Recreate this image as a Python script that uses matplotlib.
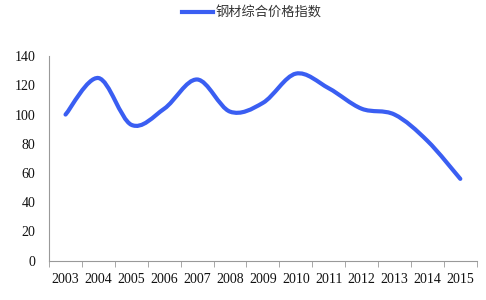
import matplotlib.pyplot as plt
import numpy as np
from matplotlib.path import Path
from matplotlib.patches import PathPatch
from matplotlib.lines import Line2D

years = ['2003', '2004', '2005', '2006', '2007', '2008', '2009',
         '2010', '2011', '2012', '2013', '2014', '2015']
index_values = [100, 125, 93, 104, 124, 102, 108, 128, 118, 104, 100, 82, 56]
series_name = '钢材综合价格指数'

blue = '#3a5ef2'

def smooth_path(x, y, t=1/6):
    # Catmull-Rom style bezier, like Excel's smoothed line
    x = np.asarray(x, float)
    y = np.asarray(y, float)
    verts = [(x[0], y[0])]
    codes = [Path.MOVETO]
    n = len(x)
    for i in range(n - 1):
        i0 = max(i - 1, 0)
        i3 = min(i + 2, n - 1)
        c1 = (x[i] + (x[i + 1] - x[i0]) * t, y[i] + (y[i + 1] - y[i0]) * t)
        c2 = (x[i + 1] - (x[i3] - x[i]) * t, y[i + 1] - (y[i3] - y[i]) * t)
        verts += [c1, c2, (x[i + 1], y[i + 1])]
        codes += [Path.CURVE4] * 3
    return Path(verts, codes)

fig = plt.figure(figsize=(4.86, 3.0), dpi=100)
ax = fig.add_axes([0.101, 0.131, 0.880, 0.682])

xpos = np.arange(len(years))
ax.add_patch(PathPatch(smooth_path(xpos, index_values), facecolor='none',
                       edgecolor=blue, linewidth=3.0, capstyle='round'))

ax.set_xlim(-0.5, len(years) - 0.5)
ax.set_ylim(0, 140)
ax.set_yticks(np.arange(0, 141, 20))
ax.set_xticks(xpos)
ax.set_xticklabels(years)
ax.set_xticks(np.arange(-0.5, len(years)), minor=True)
ax.tick_params(axis='x', which='major', length=0, pad=9)
ax.tick_params(axis='x', which='minor', length=4, direction='out', color='#999999')
ax.tick_params(axis='y', length=0, pad=10)

for lab in ax.get_xticklabels() + ax.get_yticklabels():
    lab.set_fontfamily('Liberation Serif')
    lab.set_fontsize(10)
    lab.set_color('#111111')

for s in ['top', 'right']:
    ax.spines[s].set_visible(False)
for s in ['left', 'bottom']:
    ax.spines[s].set_color('#999999')
    ax.spines[s].set_linewidth(0.8)

handle = Line2D([], [], color=blue, linewidth=3.0)
leg = fig.legend([handle], [series_name], loc='center', bbox_to_anchor=(0.518, 0.955),
                 frameon=False, handlelength=2.3, handletextpad=0.2,
                 prop={'family': ['Noto Sans CJK SC', 'DejaVu Sans'], 'size': 9.5})
for txt in leg.get_texts():
    txt.set_color('#333333')

fig.savefig('out.png', dpi=100)
